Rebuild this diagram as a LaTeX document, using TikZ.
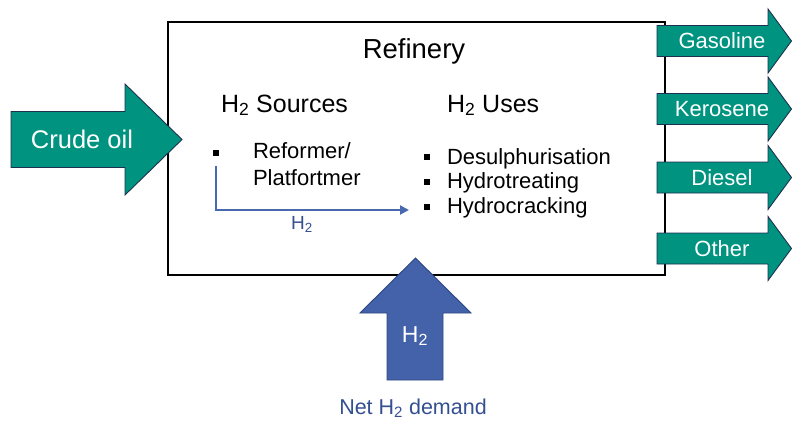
\documentclass[tikz,border=0pt]{standalone}
\usepackage{fontspec}
\setmainfont{Liberation Sans}
\usetikzlibrary{arrows.meta}
\definecolor{flowteal}{RGB}{0,148,128}
\definecolor{flowedge}{RGB}{30,48,80}
\definecolor{hblue}{RGB}{68,98,169}
\definecolor{hedge}{RGB}{47,72,130}
\definecolor{hline}{RGB}{72,104,176}
\definecolor{htext}{RGB}{52,80,145}
\newcommand{\fs}[1]{\fontsize{#1}{#1}\selectfont}
\begin{document}
\begin{tikzpicture}[x=1pt,y=-1pt,
  txt/.style={inner sep=0pt, outer sep=0pt},
  product/.style={fill=flowteal, draw=flowedge, line width=0.9pt, line join=miter},
  h2arrow/.style={fill=hblue, draw=hedge, line width=0.9pt, line join=miter},
  refbox/.style={draw=black, line width=2pt},
  bulletsq/.style={fill=black, minimum size=6pt, inner sep=0pt},
  conn/.style={draw=hline, line width=2pt, -{Triangle[length=9pt,width=9pt]}}]
\useasboundingbox (0,0) rectangle (792,423);
\fill[white] (0,0) rectangle (792,423);

% refinery boundary
\draw[refbox] (168,22) rectangle (665,275);

% crude oil feed
\draw[product] (11,111.5) -- (125,111.5) -- (125,84) -- (182,139.5) -- (125,195)
  -- (125,167.5) -- (11,167.5) -- cycle;
\node[txt, text=white, font=\fs{25.5}, anchor=base] (crude) at (82,148.5) {Crude oil};

% product streams
\foreach \name/\cy/\lab in {gas/41/Gasoline, kero/109/Kerosene, dies/177.5/Diesel, oth/248.5/Other}{
  \draw[product] (657,\cy-15.5) -- (768,\cy-15.5) -- (768,\cy-32) -- (791.5,\cy)
    -- (768,\cy+32) -- (768,\cy+15.5) -- (657,\cy+15.5) -- cycle;
  \node[txt, text=white, font=\fs{22}] (\name) at (722,\cy) {\lab};
}

% external hydrogen supply
\draw[h2arrow] (387,380) -- (387,313) -- (360,313) -- (415.5,258) -- (471,313)
  -- (443,313) -- (443,380) -- cycle;
\node[txt, text=white, font=\fs{23}, anchor=base] (h2in) at (415,342) {H\textsubscript{2}};
\node[txt, text=htext, font=\fs{21.5}, anchor=base] (demand) at (413,414) {Net H\textsubscript{2} demand};

% titles
\node[txt, font=\fs{27.5}, anchor=base] (title) at (414,58) {Refinery};
\node[txt, font=\fs{25}, anchor=base west] (src) at (221,112) {H\textsubscript{2} Sources};
\node[txt, font=\fs{25}, anchor=base west] (uses) at (447,112) {H\textsubscript{2} Uses};

% hydrogen sources
\node[bulletsq] (sb) at (216,153) {};
\node[txt, font=\fs{22}, anchor=base west] (ref1) at (253,158) {Reformer/};
\node[txt, font=\fs{22}, anchor=base west] (ref2) at (253,185) {Platfortmer};

% hydrogen uses
\node[bulletsq] (ub1) at (427,157) {};
\node[bulletsq] (ub2) at (427,182) {};
\node[bulletsq] (ub3) at (427,207) {};
\node[txt, font=\fs{22}, anchor=base west] (use1) at (447,164) {Desulphurisation};
\node[txt, font=\fs{22}, anchor=base west] (use2) at (447,188.5) {Hydrotreating};
\node[txt, font=\fs{22}, anchor=base west] (use3) at (447,213) {Hydrocracking};

% internal hydrogen route
\coordinate (cs) at (216,166);
\coordinate (ce) at (409,210);
\draw[conn] (cs) |- (ce);
\node[txt, text=htext, font=\fs{19}, anchor=base] (h2int) at (302,229) {H\textsubscript{2}};
\end{tikzpicture}
\end{document}
